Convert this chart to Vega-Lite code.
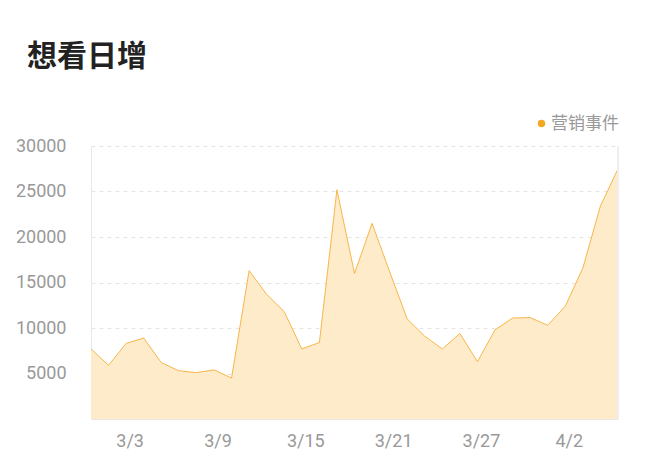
{
  "$schema": "https://vega.github.io/schema/vega-lite/v6.json",
  "autosize": "none",
  "width": 527,
  "height": 273,
  "padding": {"left": 91, "top": 146, "right": 36, "bottom": 55},
  "title": {
    "text": "想看日增",
    "anchor": "start",
    "frame": "group",
    "fontSize": 30,
    "fontWeight": "bold",
    "color": "#222222",
    "dx": -64,
    "offset": 43
  },
  "data": {
    "values": [
      {"date": "3/1", "value": 7700, "series": "营销事件"},
      {"date": "3/2", "value": 5900, "series": "营销事件"},
      {"date": "3/3", "value": 8300, "series": "营销事件"},
      {"date": "3/4", "value": 8900, "series": "营销事件"},
      {"date": "3/5", "value": 6200, "series": "营销事件"},
      {"date": "3/6", "value": 5300, "series": "营销事件"},
      {"date": "3/7", "value": 5100, "series": "营销事件"},
      {"date": "3/9", "value": 5400, "series": "营销事件"},
      {"date": "3/10", "value": 4500, "series": "营销事件"},
      {"date": "3/11", "value": 16300, "series": "营销事件"},
      {"date": "3/12", "value": 13700, "series": "营销事件"},
      {"date": "3/13", "value": 11800, "series": "营销事件"},
      {"date": "3/15", "value": 7700, "series": "营销事件"},
      {"date": "3/16", "value": 8400, "series": "营销事件"},
      {"date": "3/17", "value": 25200, "series": "营销事件"},
      {"date": "3/18", "value": 16000, "series": "营销事件"},
      {"date": "3/19", "value": 21500, "series": "营销事件"},
      {"date": "3/21", "value": 16200, "series": "营销事件"},
      {"date": "3/22", "value": 11000, "series": "营销事件"},
      {"date": "3/23", "value": 9100, "series": "营销事件"},
      {"date": "3/24", "value": 7700, "series": "营销事件"},
      {"date": "3/25", "value": 9400, "series": "营销事件"},
      {"date": "3/27", "value": 6300, "series": "营销事件"},
      {"date": "3/28", "value": 9800, "series": "营销事件"},
      {"date": "3/29", "value": 11100, "series": "营销事件"},
      {"date": "3/30", "value": 11150, "series": "营销事件"},
      {"date": "3/31", "value": 10300, "series": "营销事件"},
      {"date": "4/2", "value": 12400, "series": "营销事件"},
      {"date": "4/3", "value": 16600, "series": "营销事件"},
      {"date": "4/4", "value": 23400, "series": "营销事件"},
      {"date": "4/5", "value": 27500, "series": "营销事件"}
    ]
  },
  "encoding": {
    "x": {
      "field": "date",
      "type": "nominal",
      "sort": null,
      "scale": {"type": "point", "padding": 0},
      "axis": {
        "values": ["3/3", "3/9", "3/15", "3/21", "3/27", "4/2"],
        "labelAngle": 0,
        "labelOffset": 3.5,
        "labelPadding": 13,
        "ticks": false,
        "domainColor": "#e8e8e8",
        "grid": false,
        "title": null
      }
    },
    "y": {
      "field": "value",
      "type": "quantitative",
      "scale": {"domain": [0, 30000], "nice": false},
      "axis": {
        "values": [5000, 10000, 15000, 20000, 25000, 30000],
        "format": "d",
        "ticks": false,
        "domainColor": "#e8e8e8",
        "labelPadding": 25,
        "gridDash": [4, 4],
        "gridColor": "#e6e6e6",
        "title": null
      }
    }
  },
  "layer": [
    {
      "mark": {"type": "area", "color": "#FDEBCA", "opacity": 1}
    },
    {
      "mark": {"type": "line", "strokeWidth": 1, "strokeOpacity": 0.8},
      "encoding": {
        "color": {
          "field": "series",
          "type": "nominal",
          "scale": {"range": ["#F5A623"]},
          "legend": {
            "orient": "none",
            "legendX": 442,
            "legendY": -31,
            "title": null,
            "padding": 0,
            "symbolType": "circle",
            "symbolSize": 55,
            "symbolStrokeWidth": 0,
            "symbolFillColor": "#F5A623",
            "labelFontSize": 17,
            "labelColor": "#999999",
            "labelOffset": 1,
            "encode": {"symbols": {"update": {"fill": {"value": "#F5A623"}, "strokeWidth": {"value": 0}, "opacity": {"value": 1}}}}
          }
        }
      }
    },
    {
      "mark": {"type": "rule", "color": "#eeeeee", "strokeWidth": 1},
      "encoding": {"x": {"datum": "4/5"}, "y": {"datum": 0}, "y2": {"datum": 30000}}
    }
  ],
  "config": {
    "font": "Roboto, Noto Sans CJK SC",
    "view": {"stroke": null},
    "axis": {"labelFontSize": 18, "labelColor": "#999999", "labelFont": "Roboto, Noto Sans CJK SC"},
    "legend": {"labelFont": "Noto Sans CJK SC"},
    "title": {"font": "Noto Sans CJK SC"}
  }
}
